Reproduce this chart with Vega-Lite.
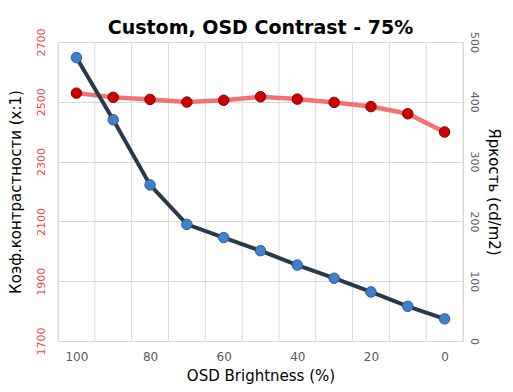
{
  "$schema": "https://vega.github.io/schema/vega-lite/v6.json",
  "width": 405,
  "height": 299,
  "autosize": {"type": "none"},
  "padding": {"left": 58, "top": 42, "right": 50, "bottom": 51},
  "background": "white",
  "title": {
    "text": "Custom, OSD Contrast - 75%",
    "font": "DejaVu Sans",
    "fontSize": 19,
    "fontWeight": "bold",
    "color": "#000000",
    "anchor": "middle",
    "offset": -10
  },
  "config": {
    "view": {"stroke": "#d9d9d9", "strokeWidth": 1},
    "axis": {
      "labelFont": "DejaVu Sans",
      "titleFont": "DejaVu Sans",
      "gridColor": "#d9d9d9",
      "gridWidth": 1,
      "domain": false,
      "ticks": false
    }
  },
  "data": {
    "values": [
      {"osd": 100, "contrast": 2529, "brightness": 474},
      {"osd": 90, "contrast": 2515, "brightness": 370},
      {"osd": 80, "contrast": 2508, "brightness": 261},
      {"osd": 70, "contrast": 2499, "brightness": 195},
      {"osd": 60, "contrast": 2505, "brightness": 173},
      {"osd": 50, "contrast": 2517, "brightness": 151},
      {"osd": 40, "contrast": 2509, "brightness": 127},
      {"osd": 30, "contrast": 2498, "brightness": 105},
      {"osd": 20, "contrast": 2484, "brightness": 82},
      {"osd": 10, "contrast": 2460, "brightness": 58},
      {"osd": 0, "contrast": 2399, "brightness": 37}
    ]
  },
  "encoding": {
    "x": {
      "field": "osd",
      "type": "quantitative",
      "scale": {"domain": [-5, 105], "reverse": true, "nice": false, "zero": false},
      "axis": {
        "values": [100, 80, 60, 40, 20, 0],
        "grid": false,
        "title": "OSD Brightness (%)",
        "titleFontSize": 15,
        "titleFontWeight": "normal",
        "titleColor": "#000000",
        "titlePadding": 6,
        "labelFontSize": 12,
        "labelColor": "#595959",
        "labelPadding": 10
      }
    }
  },
  "layer": [
    {
      "data": {"values": [{"g": 105}, {"g": 95}, {"g": 85}, {"g": 75}, {"g": 65}, {"g": 55}, {"g": 45}, {"g": 35}, {"g": 25}, {"g": 15}, {"g": 5}, {"g": -5}]},
      "mark": {"type": "rule", "color": "#d9d9d9", "strokeWidth": 1},
      "encoding": {"x": {"field": "g", "type": "quantitative"}}
    },
    {
      "encoding": {
        "y": {
          "field": "contrast",
          "type": "quantitative",
          "scale": {"domain": [1700, 2700], "nice": false, "zero": false},
          "axis": {
            "orient": "left",
            "values": [1700, 1900, 2100, 2300, 2500, 2700],
            "format": "d",
            "grid": true,
            "title": "Коэф.контрастности (x:1)",
            "titleFontSize": 15,
            "titleFontWeight": "normal",
            "titleColor": "#000000",
            "titlePadding": 12,
            "labelAngle": -90,
            "labelAlign": "center",
            "labelBaseline": "bottom",
            "labelFontSize": 11,
            "labelColor": "#e8474a",
            "labelPadding": 12
          }
        }
      },
      "layer": [
        {"mark": {"type": "line", "color": "#f06464", "strokeWidth": 4.5, "opacity": 0.9}},
        {"mark": {"type": "circle", "size": 110, "color": "#cc0000", "stroke": "#8a0000", "strokeWidth": 1, "opacity": 1}}
      ]
    },
    {
      "encoding": {
        "y": {
          "field": "brightness",
          "type": "quantitative",
          "scale": {"domain": [0, 500], "nice": false},
          "axis": {
            "orient": "right",
            "values": [0, 100, 200, 300, 400, 500],
            "format": "d",
            "grid": false,
            "title": "Яркость (cd/m2)",
            "titleFontSize": 15,
            "titleFontWeight": "normal",
            "titleColor": "#000000",
            "titlePadding": 6,
            "labelAngle": 90,
            "labelAlign": "center",
            "labelBaseline": "bottom",
            "labelFontSize": 11,
            "labelColor": "#595959",
            "labelPadding": 5
          }
        }
      },
      "layer": [
        {"mark": {"type": "line", "color": "#263a4c", "strokeWidth": 4}},
        {"mark": {"type": "circle", "size": 110, "color": "#3d80cc", "stroke": "#2a5e9c", "strokeWidth": 1, "opacity": 1}}
      ]
    }
  ],
  "resolve": {"scale": {"y": "independent"}}
}
